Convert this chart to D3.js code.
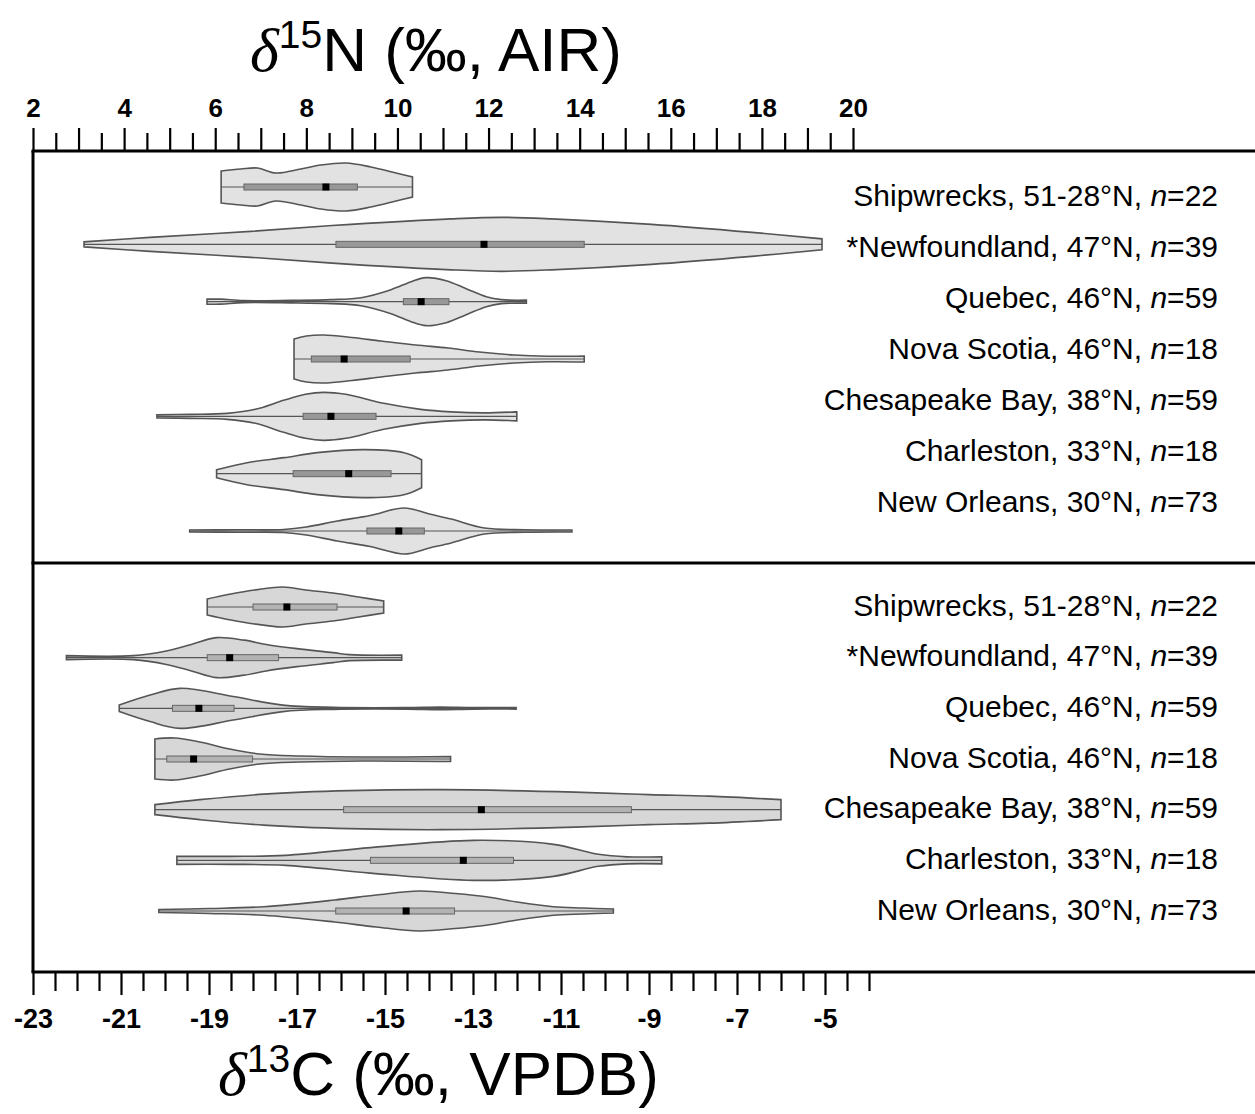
<!DOCTYPE html>
<html>
<head>
<meta charset="utf-8">
<script src="https://cdn.jsdelivr.net/npm/d3@7"></script>
<style>
body{margin:0;background:#fff;}
svg{display:block;}
</style>
</head>
<body>
<svg id="chart" width="1255" height="1114"></svg>
<script>
//data
var sites = ["Shipwrecks, 51-28°N", "*Newfoundland, 47°N", "Quebec, 46°N", "Nova Scotia, 46°N",
             "Chesapeake Bay, 38°N", "Charleston, 33°N", "New Orleans, 30°N"];
var sampleN = [22, 39, 59, 18, 59, 18, 73];

// d15N density outlines, [value, relative density]
var nShipwrecks = [[6.13,0.64],[6.56,0.72],[6.93,0.76],[7.33,0.56],[7.88,0.72],[8.32,0.88],[8.87,0.96],[9.42,0.8],[9.97,0.56],[10.33,0.4]];
var nNewfoundland = [[3.12,0.1],[4.57,0.28],[6.78,0.52],[8.98,0.8],[11.18,1.02],[12.28,1.08],[13.38,1.02],[15.58,0.8],[17.78,0.48],[19.32,0.22]];
var nQuebec = [[5.82,0.1],[6.12,0.1],[6.62,0.04],[7.66,0.05],[8.54,0.08],[9.2,0.16],[9.86,0.48],[10.3,0.8],[10.63,0.96],[11.07,0.84],[11.51,0.52],[11.95,0.2],[12.28,0.08],[12.83,0.06]];
var nNovaScotia = [[7.73,0.8],[8.0,0.92],[8.38,0.96],[9.0,0.86],[9.64,0.72],[10.4,0.56],[11.11,0.44],[11.8,0.28],[12.56,0.16],[13.3,0.11],[14.1,0.12]];
var nChesapeake = [[4.72,0.06],[5.46,0.08],[6.26,0.12],[6.88,0.28],[7.5,0.64],[7.98,0.88],[8.38,0.96],[8.87,0.88],[9.7,0.52],[10.51,0.28],[11.18,0.18],[11.9,0.14],[12.62,0.18]];
var nCharleston = [[6.03,0.16],[6.7,0.44],[7.51,0.64],[8.24,0.84],[9.27,0.96],[10.14,0.84],[10.53,0.56]];
var nNewOrleans = [[5.44,0.04],[6.5,0.05],[7.5,0.06],[8.0,0.16],[8.68,0.4],[9.4,0.62],[10.15,0.92],[10.7,0.68],[11.18,0.48],[11.91,0.12],[12.8,0.05],[13.83,0.04]];

var nQ1 = [6.63, 8.65, 10.13, 8.11, 7.93, 7.71, 9.33];
var nMedian = [8.43, 11.90, 10.52, 8.83, 8.54, 8.93, 10.03];
var nQ3 = [9.12, 14.10, 11.13, 10.28, 9.53, 9.86, 10.59];

// d13C density outlines
var cShipwrecks = [[-19.04,0.32],[-18.6,0.49],[-18.15,0.63],[-17.32,0.8],[-16.8,0.68],[-16.18,0.56],[-15.6,0.4],[-15.03,0.24]];
var cNewfoundland = [[-22.24,0.08],[-20.72,0.08],[-19.97,0.27],[-19.4,0.53],[-18.83,0.8],[-18.2,0.7],[-17.7,0.53],[-17.0,0.36],[-16.18,0.2],[-15.81,0.12],[-14.62,0.1]];
var cQuebec = [[-21.04,0.13],[-20.34,0.53],[-19.66,0.8],[-18.45,0.47],[-17.32,0.13],[-16.18,0.04],[-14.5,0.03],[-13.76,0.05],[-13.0,0.03],[-12.02,0.03]];
var cNovaScotia = [[-20.23,0.8],[-19.78,0.84],[-19.21,0.68],[-18.53,0.4],[-17.85,0.2],[-16.94,0.12],[-15.5,0.08],[-13.51,0.1]];
var cChesapeake = [[-20.23,0.2],[-19.21,0.4],[-17.76,0.62],[-15.81,0.76],[-13.72,0.8],[-10.68,0.7],[-9.0,0.6],[-7.63,0.54],[-6.0,0.4]];
var cCharleston = [[-19.73,0.16],[-18.5,0.16],[-17.26,0.2],[-15.33,0.51],[-12.99,0.8],[-11.17,0.64],[-10.15,0.24],[-9.5,0.14],[-8.71,0.14]];
var cNewOrleans = [[-20.14,0.06],[-19.0,0.1],[-17.76,0.17],[-16.15,0.44],[-15.2,0.64],[-14.22,0.8],[-13.4,0.7],[-12.7,0.57],[-12.0,0.36],[-11.17,0.17],[-10.5,0.12],[-9.81,0.08]];

var cQ1 = [-18.00, -19.04, -19.83, -19.96, -15.94, -15.33, -16.12];
var cMedian = [-17.23, -18.53, -19.23, -19.35, -12.81, -13.22, -14.52];
var cQ3 = [-16.09, -17.42, -18.43, -18.01, -9.40, -12.08, -13.42];

var nTicks = d3.range(2, 20.01, 0.5);
var cTicks = d3.range(-23, -3.99, 0.5);

var nDensity = [nShipwrecks, nNewfoundland, nQuebec, nNovaScotia, nChesapeake, nCharleston, nNewOrleans];
var cDensity = [cShipwrecks, cNewfoundland, cQuebec, cNovaScotia, cChesapeake, cCharleston, cNewOrleans];

//layout
var width = 1255, height = 1114;
var left = 33, top1 = 151, mid = 563, bottom = 972;
var sans = "'Liberation Sans', Arial, sans-serif";

var svg = d3.select('#chart');

var xN = d3.scaleLinear().domain([2, 20]).range([33, 853]);
var xC = d3.scaleLinear().domain([-23, -5]).range([33, 825]);
var yNviolin = d3.scalePoint().domain(sites).range([187, 531]);
var yNlabel = d3.scalePoint().domain(sites).range([195, 501]);
var yCviolin = d3.scalePoint().domain(sites).range([607, 911]);
var yClabel = d3.scalePoint().domain(sites).range([605, 909]);
var wScale = d3.scaleLinear().domain([0, 1]).range([0, 25]);

//axes
function styleAxis(g){
	g.select('.domain').remove();
	g.selectAll('line').attr('stroke', '#000').attr('stroke-width', 2.2);
	g.selectAll('text').attr('fill', '#000').attr('font-family', sans)
		.attr('font-weight', 'bold');
}

svg.append('g').attr('transform', `translate(0,${top1})`)
	.call(d3.axisTop(xN).tickValues(nTicks.filter(d => d % 1 !== 0)).tickSize(18).tickFormat(''))
	.call(styleAxis);
svg.append('g').attr('transform', `translate(0,${top1})`)
	.call(d3.axisTop(xN).tickValues(nTicks.filter(d => d % 1 === 0)).tickSize(23).tickPadding(11)
		.tickFormat(d => d % 2 === 0 ? d : ''))
	.call(styleAxis)
	.selectAll('text').attr('font-size', 26);

svg.append('g').attr('transform', `translate(0,${bottom})`)
	.call(d3.axisBottom(xC).tickValues(cTicks.filter(d => !(d % 2 === -1 || d % 2 === 1))).tickSize(19).tickFormat(''))
	.call(styleAxis);
svg.append('g').attr('transform', `translate(0,${bottom})`)
	.call(d3.axisBottom(xC).tickValues(cTicks.filter(d => d <= -5 && Math.abs(d % 2) === 1)).tickSize(23).tickPadding(14)
		.tickFormat(d => d))
	.call(styleAxis)
	.selectAll('text').attr('font-size', 27);

//frame
var frame = svg.append('g').attr('stroke', '#000').attr('stroke-width', 3);
[top1, mid, bottom].forEach(function(y){
	frame.append('line').attr('x1', left - 1.5).attr('x2', width).attr('y1', y).attr('y2', y);
});
frame.append('line').attr('x1', left).attr('x2', left).attr('y1', top1).attr('y2', bottom);

//violins
function drawPanel(x, yV, yL, dens, q1, med, q3, fill, boxFill){
	sites.forEach(function(site, i){
		var pts = dens[i].map(d => ({x: x(d[0]), w: d[1]}));
		var g = svg.append('g').attr('transform', `translate(0,${yV(site)})`);
		g.append('path').datum(pts)
			.attr('d', d3.area().x(d => d.x).y0(d => -wScale(d.w)).y1(d => wScale(d.w))
				.curve(d3.curveCatmullRom.alpha(0.5)))
			.attr('fill', fill).attr('stroke', '#555').attr('stroke-width', 1.6);
		g.append('line')
			.attr('x1', x(dens[i][0][0])).attr('x2', x(dens[i][dens[i].length - 1][0]))
			.attr('stroke', '#555').attr('stroke-width', 1.2);
		g.append('rect')
			.attr('x', x(q1[i])).attr('width', x(q3[i]) - x(q1[i]))
			.attr('y', -3).attr('height', 6)
			.attr('fill', boxFill).attr('stroke', '#666').attr('stroke-width', 1);
		g.append('rect')
			.attr('x', x(med[i]) - 3.5).attr('width', 7)
			.attr('y', -3.5).attr('height', 7)
			.attr('fill', '#000');

		var t = svg.append('text')
			.attr('x', 1218).attr('y', yL(site)).attr('dy', '0.35em')
			.attr('text-anchor', 'end')
			.attr('font-family', sans).attr('font-size', 30).attr('fill', '#000');
		t.append('tspan').text(site + ', ');
		t.append('tspan').attr('font-style', 'italic').text('n');
		t.append('tspan').text('=' + sampleN[i]);
	});
}

drawPanel(xN, yNviolin, yNlabel, nDensity, nQ1, nMedian, nQ3, '#e2e2e2', '#989898');
drawPanel(xC, yCviolin, yClabel, cDensity, cQ1, cMedian, cQ3, '#d7d7d7', '#b2b2b2');

//titles
function title(x, y, sup, rest){
	var t = svg.append('text').attr('x', x).attr('y', y)
		.attr('font-family', sans).attr('font-size', 62).attr('fill', '#000');
	t.append('tspan').attr('font-family', "'Liberation Serif', 'Times New Roman', serif")
		.attr('font-style', 'italic').text('δ');
	t.append('tspan').attr('font-size', 39).attr('dy', -23).text(sup);
	t.append('tspan').attr('dy', 23).text(rest);
}
title(250, 71, '15', 'N (‰, AIR)');
title(218, 1095, '13', 'C (‰, VPDB)');
</script>
</body>
</html>
